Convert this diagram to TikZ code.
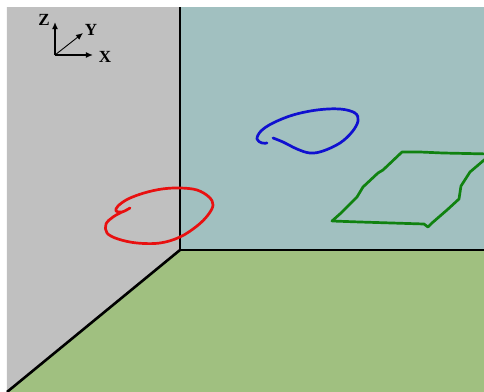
\documentclass[tikz,border=0pt]{standalone}
\usepackage{fontspec}
\setmainfont{Liberation Serif}
\usetikzlibrary{arrows.meta}
\definecolor{leftwall}{RGB}{192,192,192}
\definecolor{backwall}{RGB}{161,192,192}
\definecolor{floorc}{RGB}{160,192,128}
\definecolor{redc}{RGB}{232,16,16}
\definecolor{bluec}{RGB}{16,16,208}
\definecolor{greenc}{RGB}{16,130,16}
\tikzset{
  edge/.style={black,line width=1.3pt},
  axis/.style={black,line width=0.7pt,-{Latex[length=3.5pt,width=3pt]}},
  axlabel/.style={font=\fontsize{8.5}{8.5}\selectfont\bfseries,inner sep=0pt},
  stroke/.style={line width=1.35pt,line join=round,line cap=round},
}
\begin{document}
\begin{tikzpicture}[x=0.5pt,y=-0.5pt]
\useasboundingbox (0,0) rectangle (484,392);
\fill[white] (0,0) rectangle (484,392);
\fill[leftwall] (7,7) -- (180,7) -- (180,250) -- (7,392) -- cycle;
\fill[backwall] (180,7) rectangle (484,250);
\fill[floorc] (180,250) -- (484,250) -- (484,392) -- (7,392) -- cycle;
\coordinate (top) at (180,7);
\coordinate (corner) at (180,250);
\coordinate (right) at (484,250);
\coordinate (bl) at (7,392);
\draw[edge] (top) -- (corner) -- (right);
\draw[edge] (corner) -- (bl);
% axes
\coordinate (o) at (55,55);
\coordinate (zt) at (55,22);
\coordinate (xt) at (93,55);
\coordinate (yt) at (83,33);
\draw[axis] (o) -- (zt);
\draw[axis] (o) -- (xt);
\draw[axis,line width=0.45pt] (o) -- (yt);
\node[axlabel] (zl) at (44,20) {Z};
\node[axlabel] (yl) at (91,30) {Y};
\node[axlabel] (xl) at (105,57) {X};
% red curve
\draw[stroke,redc] plot[smooth,tension=0.6] coordinates {(130,208) (122,212) (116,211) (118,206) (128,199) (144,193) (162,189) (180,188) (197,190) (209,197) (213,205) (208,215) (197,226) (180,237) (160,243) (137,243) (118,239) (107,233) (106,224) (113,217) (122,212)};
% blue curve
\draw[stroke,bluec] plot[smooth,tension=0.6] coordinates {(273,138) (283,142) (297,149) (310,153) (323,151) (340,143) (352,132) (358,121) (355,113) (340,109) (317,110) (293,115) (273,123) (261,131) (257,139) (262,143) (267,143)};
% green curve
\begin{scope}
\clip (0,0) rectangle (484,392);
\draw[stroke,greenc] (332,221) -- (341,213) -- (357,197) -- (363,187) -- (378,173) -- (383,170) -- (402,152) -- (420,152) -- (443,153) -- (490,154)
  (490,155) -- (470,172) -- (461,186) -- (459,199) -- (447,210) -- (432,223) -- (428,227) -- (424,224) -- (360,222) -- (332,221);
\end{scope}
\end{tikzpicture}
\end{document}
